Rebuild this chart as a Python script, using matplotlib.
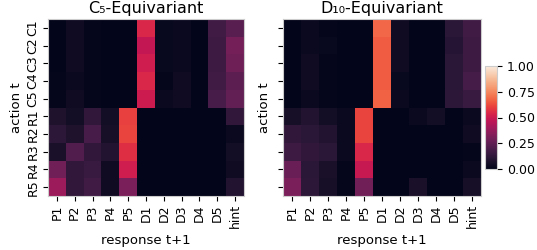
import numpy as np
import matplotlib
matplotlib.use('Agg')
import matplotlib.pyplot as plt
import seaborn as sns

# Etiquetas
acciones = ['C1', 'C2', 'C3', 'C4', 'C5', 'R1', 'R2', 'R3', 'R4', 'R5']
respuestas = ['P1', 'P2', 'P3', 'P4', 'P5', 'D1', 'D2', 'D3', 'D4', 'D5', 'hint']
titulos = ['C\u2085-Equivariant', 'D\u2081\u2080-Equivariant']

# Probabilidades C5 (filas: acciones, columnas: respuestas)
c5 = np.array([
    [0.00, 0.04, 0.01, 0.00, 0.00, 0.54, 0.02, 0.03, 0.00, 0.17, 0.23],
    [0.00, 0.04, 0.01, 0.00, 0.00, 0.48, 0.02, 0.03, 0.00, 0.16, 0.30],
    [0.00, 0.04, 0.01, 0.00, 0.00, 0.51, 0.02, 0.03, 0.00, 0.16, 0.28],
    [0.01, 0.03, 0.01, 0.00, 0.00, 0.54, 0.01, 0.04, 0.00, 0.17, 0.24],
    [0.01, 0.04, 0.01, 0.00, 0.00, 0.50, 0.03, 0.04, 0.00, 0.19, 0.25],
    [0.08, 0.05, 0.13, 0.05, 0.60, 0.00, 0.00, 0.00, 0.00, 0.00, 0.13],
    [0.12, 0.08, 0.19, 0.06, 0.61, 0.00, 0.00, 0.00, 0.00, 0.00, 0.03],
    [0.07, 0.21, 0.13, 0.09, 0.56, 0.00, 0.00, 0.00, 0.00, 0.00, 0.05],
    [0.29, 0.13, 0.15, 0.04, 0.51, 0.00, 0.00, 0.00, 0.00, 0.00, 0.04],
    [0.39, 0.13, 0.17, 0.04, 0.31, 0.00, 0.00, 0.00, 0.00, 0.00, 0.09],
])

# Probabilidades D10
d10 = np.array([
    [0.00, 0.03, 0.01, 0.00, 0.00, 0.68, 0.04, 0.00, 0.00, 0.11, 0.17],
    [0.00, 0.03, 0.02, 0.00, 0.00, 0.66, 0.04, 0.00, 0.00, 0.10, 0.16],
    [0.00, 0.04, 0.01, 0.00, 0.00, 0.66, 0.04, 0.00, 0.00, 0.11, 0.16],
    [0.00, 0.04, 0.01, 0.00, 0.00, 0.66, 0.02, 0.00, 0.00, 0.11, 0.18],
    [0.00, 0.03, 0.01, 0.00, 0.00, 0.67, 0.03, 0.00, 0.00, 0.12, 0.15],
    [0.06, 0.09, 0.05, 0.03, 0.61, 0.00, 0.00, 0.03, 0.05, 0.00, 0.03],
    [0.13, 0.11, 0.09, 0.03, 0.61, 0.00, 0.00, 0.00, 0.00, 0.00, 0.04],
    [0.16, 0.13, 0.11, 0.03, 0.54, 0.00, 0.00, 0.00, 0.00, 0.00, 0.01],
    [0.27, 0.11, 0.07, 0.01, 0.49, 0.00, 0.00, 0.00, 0.00, 0.00, 0.03],
    [0.31, 0.12, 0.06, 0.01, 0.29, 0.00, 0.00, 0.07, 0.00, 0.00, 0.06],
])

W, H = 537, 250
fig = plt.figure(figsize=(W / 100, H / 100), dpi=100)
ax1 = fig.add_axes([48 / W, 54 / H, 196 / W, 177 / H])
ax2 = fig.add_axes([283 / W, 54 / H, 198 / W, 177 / H])
cax = fig.add_axes([485 / W, 81 / H, 12 / W, 103 / H])

for i, (ax, datos) in enumerate(zip([ax1, ax2], [c5, d10])):
    sns.heatmap(datos, ax=ax, cmap='rocket', vmin=0, vmax=1,
                cbar=(i == 1), cbar_ax=cax if i == 1 else None,
                xticklabels=respuestas, yticklabels=acciones)
    ax.set_title(titulos[i], fontsize=11.5, pad=4)
    ax.set_xlabel('response t+1', fontsize=9.5, labelpad=4)
    ax.set_ylabel('action t', fontsize=9.5, labelpad=3)
    ax.tick_params(labelsize=9, length=3.5, width=0.8, pad=2.5)
    ax.set_xticklabels(respuestas, rotation=90)
    if i == 0:
        ax.set_yticklabels(acciones, rotation=90, va='center')
    else:
        ax.set_yticklabels([])
    for s in ax.spines.values():
        s.set_visible(True)
        s.set_color('#cccccc')
        s.set_linewidth(0.8)

cax.tick_params(labelsize=9, length=3.5, width=0.8)
cax.set_yticks([0, 0.25, 0.5, 0.75, 1.0])
cax.set_yticklabels(['0.00', '0.25', '0.50', '0.75', '1.00'])
cbar = ax2.collections[0].colorbar
cbar.outline.set_visible(True)
cbar.outline.set_edgecolor('#cccccc')
cbar.outline.set_linewidth(0.8)

fig.savefig('out.png', dpi=100)
